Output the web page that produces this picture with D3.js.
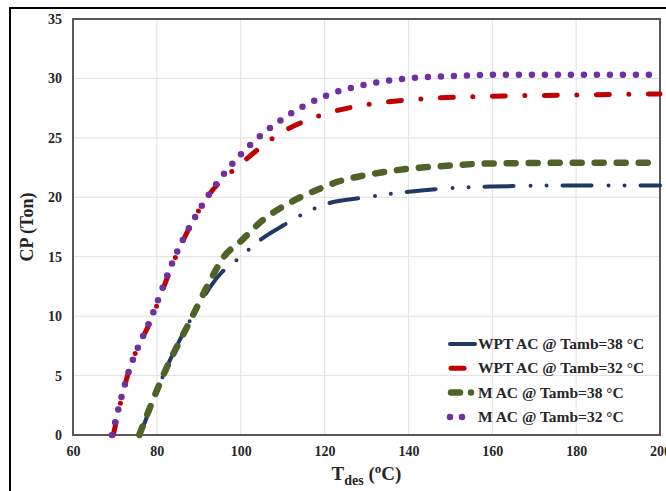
<!DOCTYPE html>
<html>
<head>
<meta charset="utf-8">
<script src="https://cdn.jsdelivr.net/npm/d3@7"></script>
<style>
  body { margin: 0; background: #fff; }
  text { font-family: "Liberation Serif", "DejaVu Serif", serif; font-weight: bold; fill: #262626; }
</style>
</head>
<body>
<div id="chart"></div>
<script>
// series data (T_des in °C, CP in Ton)
var tWptAc38 = [76, 81.5, 88.5, 95, 100, 105, 110, 116, 121, 130, 136, 147, 160, 180, 200];
var cpWptAc38 = [0, 5, 10, 13.5, 15, 16.5, 17.6, 18.8, 19.5, 20.0, 20.3, 20.7, 20.9, 21.0, 21.0];

var tWptAc32 = [69.6, 73, 79, 84.5, 92, 100, 110, 120, 130, 140, 160, 180, 200];
var cpWptAc32 = [0, 5, 10, 15, 20, 22.8, 25.5, 27.0, 27.8, 28.2, 28.5, 28.6, 28.7];

var tMAc38 = [75.8, 81.5, 88.5, 92, 96, 100, 105, 112, 118, 124, 132, 140, 147, 160, 180, 200];
var cpMAc38 = [0, 5, 10, 12.5, 15, 16.3, 18, 19.6, 20.6, 21.4, 22.0, 22.4, 22.6, 22.85, 22.9, 22.9];

var tMAc32 = [69.3, 73, 78.8, 84.3, 92, 100, 110, 120, 130, 140, 150, 160, 180, 200];
var cpMAc32 = [0, 5, 10, 15, 20, 23.6, 26.6, 28.5, 29.5, 30.0, 30.2, 30.3, 30.3, 30.3];

var seriesNames = ["WPT AC @ Tamb=38 °C", "WPT AC @ Tamb=32 °C", "M AC @ Tamb=38 °C", "M AC @ Tamb=32 °C"];
var xTicks = [60, 80, 100, 120, 140, 160, 180, 200];
var yTicks = [0, 5, 10, 15, 20, 25, 30, 35];

// line styles; legend samples are short pieces of each pattern
var series = [
  {name: seriesNames[0], t: tWptAc38, cp: cpWptAc38, color: "#203864", width: 4,
   dash: "29,17,0,16,0,16", key: [2, 27, null]},
  {name: seriesNames[1], t: tWptAc32, cp: cpWptAc32, color: "#c00000", width: 5,
   dash: "13,19.5,0,19.5", key: [3, 16, null]},
  {name: seriesNames[2], t: tMAc38, cp: cpMAc38, color: "#4f6228", width: 6.5,
   dash: "9,13", key: [3, 28, "9,11,0,30"]},
  {name: seriesNames[3], t: tMAc32, cp: cpMAc32, color: "#7030a0", width: 6.5,
   dash: "0,13", key: [2, 18, "0,12,0,30"]}
];

var W = 666, H = 491;
var margin = {top: 19, right: 6, bottom: 56, left: 73},
    width = W - margin.left - margin.right,
    height = H - margin.top - margin.bottom;

var svg = d3.select("#chart").append("svg")
    .attr("width", W)
    .attr("height", H);

// outer frame of the figure
svg.append("rect")
  .attr("x", 10).attr("y", 8)
  .attr("width", 700).attr("height", 520)
  .attr("fill", "none").attr("stroke", "#000").attr("stroke-width", 2);

var g = svg.append("g")
  .attr("transform", "translate(" + margin.left + "," + margin.top + ")");

var x = d3.scaleLinear().domain([60, 200]).range([0, width]);
var y = d3.scaleLinear().domain([0, 35]).range([height, 0]);

// gridlines
g.append("g").selectAll("line").data(xTicks.slice(1, -1)).enter().append("line")
  .attr("x1", function(d) { return x(d); }).attr("x2", function(d) { return x(d); })
  .attr("y1", 0).attr("y2", height)
  .attr("stroke", "#e0e0e0").attr("stroke-width", 1);
g.append("g").selectAll("line").data(yTicks.slice(1, -1)).enter().append("line")
  .attr("y1", function(d) { return y(d); }).attr("y2", function(d) { return y(d); })
  .attr("x1", 0).attr("x2", width)
  .attr("stroke", "#e0e0e0").attr("stroke-width", 1);

// axes (labels only, frame drawn separately)
var xAxis = g.append("g")
  .attr("transform", "translate(0," + height + ")")
  .call(d3.axisBottom(x).tickValues(xTicks).tickSize(0).tickPadding(11));
var yAxis = g.append("g")
  .call(d3.axisLeft(y).tickValues(yTicks).tickSize(0).tickPadding(11));
[xAxis, yAxis].forEach(function(a) {
  a.select(".domain").remove();
  a.selectAll("text").style("font-family", "Liberation Serif, serif")
    .style("font-weight", "bold").style("font-size", "14px").attr("fill", "#262626");
});

// plot border
g.append("rect")
  .attr("x", 0).attr("y", 0).attr("width", width).attr("height", height)
  .attr("fill", "none").attr("stroke", "#595959").attr("stroke-width", 2);

// curves
var line = d3.line()
  .x(function(d) { return x(d[0]); })
  .y(function(d) { return y(d[1]); })
  .curve(d3.curveMonotoneX);

g.append("g").selectAll("path").data(series).enter().append("path")
  .attr("d", function(s) { return line(d3.zip(s.t, s.cp)); })
  .attr("fill", "none")
  .attr("stroke", function(s) { return s.color; })
  .attr("stroke-width", function(s) { return s.width; })
  .attr("stroke-dasharray", function(s) { return s.dash; })
  .attr("stroke-linecap", "round");

// legend
var legend = g.append("g").attr("transform", "translate(375,325)");
var item = legend.selectAll("g").data(series).enter().append("g")
  .attr("transform", function(d, i) { return "translate(0," + (i * 24.3) + ")"; });
item.append("line")
  .attr("x1", function(s) { return s.key[0]; })
  .attr("x2", function(s) { return s.key[1]; })
  .attr("y1", 0).attr("y2", 0)
  .attr("stroke", function(s) { return s.color; })
  .attr("stroke-width", function(s) { return s.width; })
  .attr("stroke-dasharray", function(s) { return s.key[2]; })
  .attr("stroke-linecap", "round");
item.append("text")
  .attr("x", 30).attr("y", 5)
  .style("font-size", "15.5px")
  .text(function(s) { return s.name; });

// axis titles
svg.append("text")
  .attr("transform", "translate(33," + (margin.top + height / 2) + ") rotate(-90)")
  .attr("text-anchor", "middle")
  .style("font-size", "18px")
  .text("CP (Ton)");

var xt = svg.append("text")
  .attr("x", margin.left + width / 2).attr("y", 480)
  .attr("text-anchor", "middle")
  .style("font-size", "19px");
xt.append("tspan").text("T");
xt.append("tspan").attr("dy", 5).style("font-size", "14px").text("des");
xt.append("tspan").attr("dy", -5).text(" (");
xt.append("tspan").attr("dy", -7).style("font-size", "13px").text("o");
xt.append("tspan").attr("dy", 7).text("C)");
</script>
</body>
</html>
